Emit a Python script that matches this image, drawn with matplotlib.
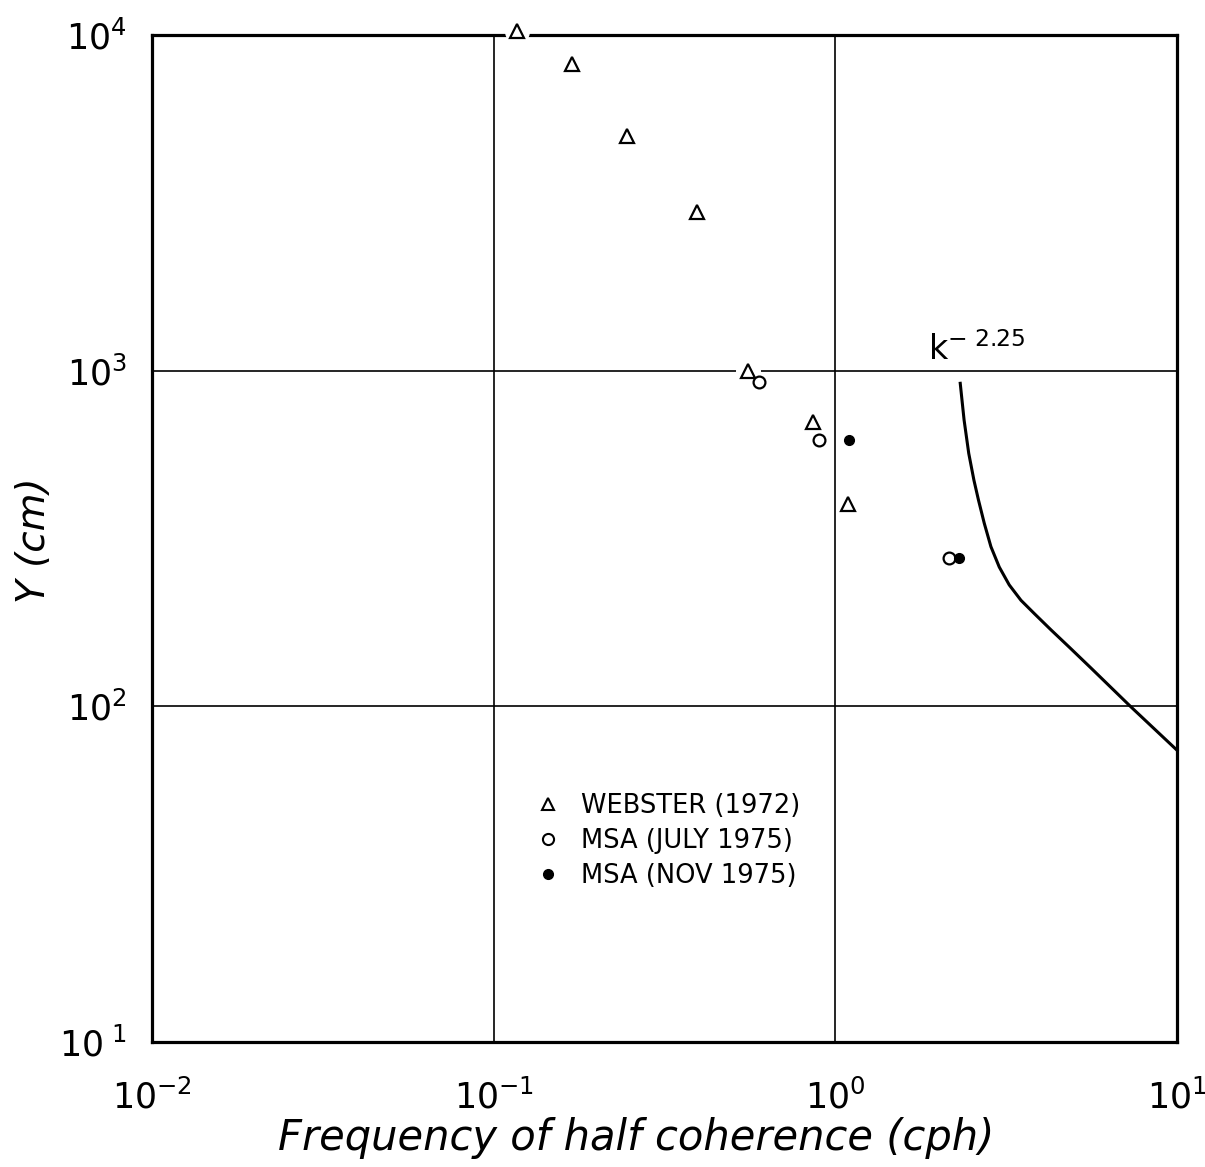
import matplotlib
matplotlib.use("Agg")
import matplotlib.pyplot as plt
from matplotlib.lines import Line2D

plt.rcParams['font.family'] = ['DejaVu Sans']

# Webster (1972) - open triangles
web_x = [0.117, 0.169, 0.246, 0.393, 0.554, 0.859, 1.087]
web_y = [10300, 8190, 5000, 2970, 1000, 703, 401]
# MSA (July 1975) - open circles
jul_x = [0.597, 0.894, 2.15]
jul_y = [925, 621, 277]
# MSA (Nov 1975) - filled circles
nov_x = [1.10, 2.30]
nov_y = [620, 277]
# k^-2.25 curve
k_x = [2.32, 2.381, 2.457, 2.544, 2.623, 2.728, 2.853, 3.018, 3.228, 3.493,
       3.821, 4.276, 4.839, 5.602, 7.34, 10.0]
k_y = [917, 713, 567, 472, 412, 351, 299, 260, 230, 207,
       189, 169, 150, 130, 99.5, 74]

xticks = [1e-2, 1e-1, 1e0, 1e1]
xticklabels = [r'$\mathregular{10^{-2}}$', r'$\mathregular{10^{-1}}$',
               r'$\mathregular{10^{0}}$', r'$\mathregular{10^{1}}$']
yticks = [1e1, 1e2, 1e3, 1e4]
yticklabels = [r'$\mathregular{10^{\ 1}}$', r'$\mathregular{10^{2}}$',
               r'$\mathregular{10^{3}}$', r'$\mathregular{10^{4}}$']

fig = plt.figure(figsize=(12.05, 11.67), dpi=100)
ax = fig.add_axes([0.1261, 0.1071, 0.8507, 0.8629])
ax.set_xscale('log')
ax.set_yscale('log')
ax.set_xlim(1e-2, 1e1)
ax.set_ylim(1e1, 1e4)

for s in ax.spines.values():
    s.set_linewidth(2.3)
    s.set_color('black')

for v in [1e-1, 1e0]:
    ax.axvline(v, color='black', lw=1.2, zorder=1)
for v in [1e2, 1e3]:
    ax.axhline(v, color='black', lw=1.2, zorder=1)

ax.set_xticks(xticks)
ax.set_xticklabels(xticklabels)
ax.set_yticks(yticks)
ax.set_yticklabels(yticklabels)
ax.minorticks_off()
ax.tick_params(axis='both', length=0, labelsize=25)
ax.tick_params(axis='x', pad=27)
ax.tick_params(axis='y', pad=18)

# white halos where the marks interrupt the lines
ax.plot(web_x, web_y, ls='none', marker='o', ms=17, mfc='white', mec='white',
        zorder=4, clip_on=False)

ax.plot(web_x, web_y, ls='none', marker='^', ms=10, mfc='white', mec='black',
        mew=1.6, zorder=5, clip_on=False)
ax.plot(jul_x, jul_y, ls='none', marker='o', ms=8.5, mfc='white', mec='black',
        mew=1.6, zorder=5)
ax.plot(nov_x, nov_y, ls='none', marker='o', ms=7, mfc='black', mec='black',
        zorder=6)

ax.plot(k_x, k_y, color='black', lw=2.2, zorder=3, clip_on=False,
        solid_joinstyle='round')
ax.text(1.87, 1075, r'$\mathregular{k^{-\ 2.25}}$', fontsize=24, ha='left',
        va='baseline')

handles = [
    Line2D([], [], ls='none', marker='^', ms=9, mfc='white', mec='black', mew=1.5),
    Line2D([], [], ls='none', marker='o', ms=8, mfc='white', mec='black', mew=1.5),
    Line2D([], [], ls='none', marker='o', ms=7, mfc='black', mec='black'),
]
labels = ['WEBSTER (1972)', 'MSA (JULY 1975)', 'MSA (NOV 1975)']
ax.legend(handles, labels, loc='upper left', bbox_to_anchor=(0.375, 0.247),
          frameon=False, fontsize=18.5, handlelength=0.9, handletextpad=0.85,
          labelspacing=0.35, borderpad=0, borderaxespad=0)

ax.set_xlabel('Frequency of half coherence (cph)', fontsize=30, style='italic')
ax.xaxis.set_label_coords(0.472, -0.074)
ax.set_ylabel('Y (cm)', fontsize=28, style='italic')
ax.yaxis.set_label_coords(-0.097, 0.498)

fig.savefig('out.png', dpi=100)
